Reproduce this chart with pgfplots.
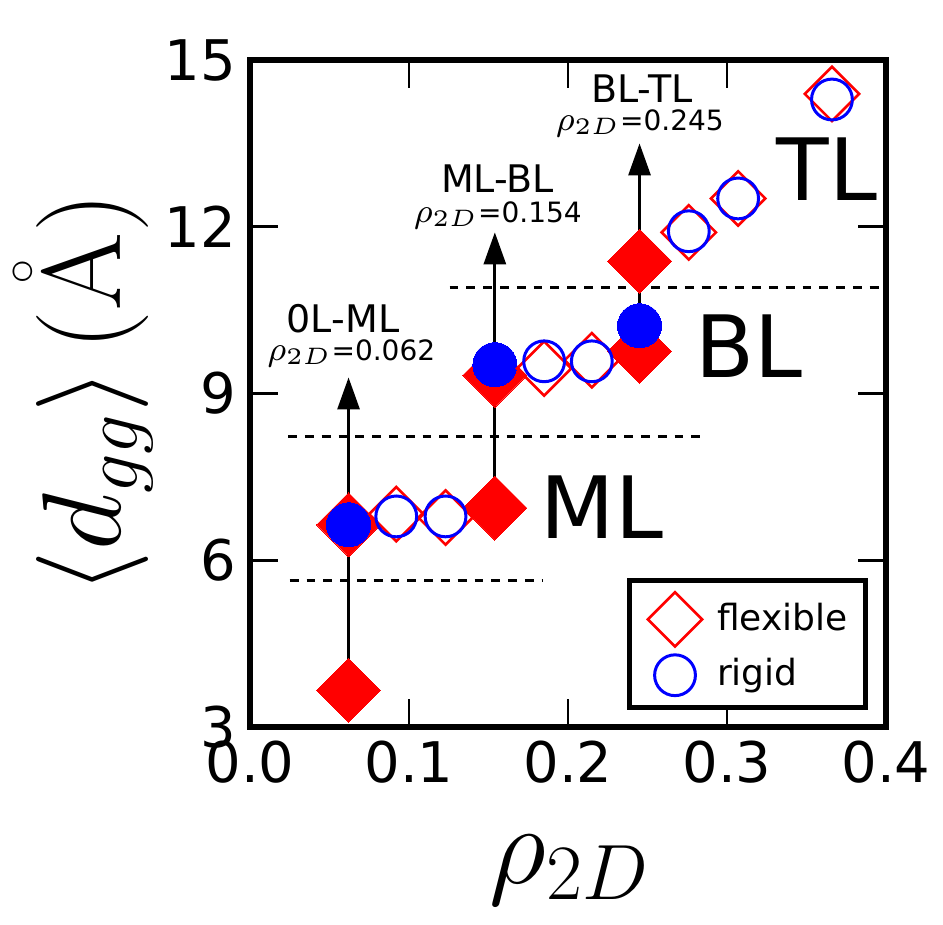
\RequirePackage{fix-cm}
\documentclass[border=0pt]{standalone}
\usepackage[no-math]{fontspec}
\setmainfont{DejaVu Sans}
\usepackage{pgfplots}
\pgfplotsset{compat=1.18}
\usetikzlibrary{arrows.meta}
\definecolor{mred}{RGB}{255,0,0}
\definecolor{mblue}{RGB}{0,0,255}
\newcommand{\tlfont}{\fontsize{14}{16}\selectfont}
\newcommand{\annfont}{\fontsize{9.5}{11}\selectfont}
\newcommand{\rhofont}{\fontsize{7}{8}\selectfont}
\newcommand{\rhomath}{{\fontsize{8.5}{9}\selectfont$\rho_{2D}$}}
\newcommand{\bigfont}{\fontsize{21.5}{24}\selectfont}
\begin{document}
\begin{tikzpicture}
\begin{axis}[
  scale only axis,
  width=159pt, height=166.75pt,
  xmin=0, xmax=0.4, ymin=3, ymax=15,
  xtick={0,0.1,0.2,0.3,0.4},
  ytick={3,6,9,12,15},
  tick align=inside,
  major tick length=7pt,
  every tick/.style={black, line width=0.7pt},
  axis line style={line width=1.4pt},
  /pgf/number format/assume math mode=true,
  xticklabel style={/pgf/number format/fixed, /pgf/number format/fixed zerofill, /pgf/number format/precision=1, font=\tlfont},
  yticklabel style={font=\tlfont},
  xlabel={$\rho_{2D}$},
  xlabel style={font=\fontsize{28}{32}\selectfont, at={(rel axis cs:0.503,-0.234)}, anchor=base},
  ylabel={$\bigl\langle d_{gg}\bigr\rangle\,(\mathring{\mathrm{A}})$},
  ylabel style={font=\fontsize{28}{32}\selectfont, at={(rel axis cs:-0.261,0.5)}, anchor=center},
  legend style={at={(rel axis cs:0.972,0.025)}, anchor=south east, draw=black, line width=1.25pt, font=\fontsize{9}{11}\selectfont, inner xsep=4.5pt, inner ysep=3pt, row sep=2pt, column sep=3.75pt, nodes={inner xsep=0pt, inner ysep=1pt}},
  legend cell align=left,
  legend image code/.code={\draw[mark repeat=2,mark phase=2,#1] plot coordinates {(0pt,0pt) (10.5pt,0pt) (21pt,0pt)};},
  clip=false,
]
% filled diamonds (flexible, transition points)
\addplot[only marks, forget plot, mark=square*, mark size=5.66pt, mark options={rotate=45, draw=mred, fill=mred, line width=0pt}] coordinates {
(0.062,3.66) (0.062,6.64) (0.154,6.94) (0.154,9.33) (0.245,9.76) (0.245,11.38)};
% filled circles (rigid, transition points)
\addplot[only marks, forget plot, mark=*, mark size=5.5pt, mark options={draw=mblue, fill=mblue, line width=0pt}] coordinates {
(0.062,6.64) (0.154,9.52) (0.245,10.22)};
% open diamonds
\addplot[only marks, mark=square, mark size=4.8pt, draw=mred, line width=0.65pt, mark options={rotate=45}] coordinates {
(0.092,6.83) (0.123,6.77) (0.185,9.45) (0.215,9.60) (0.276,11.90) (0.307,12.51) (0.366,14.39)};
\addlegendentry{flexible}
% open circles
\addplot[only marks, mark=o, mark size=5.1pt, draw=mblue, line width=0.75pt] coordinates {
(0.092,6.79) (0.123,6.79) (0.185,9.58) (0.215,9.58) (0.276,11.92) (0.307,12.51) (0.366,14.29)};
\addlegendentry{rigid}
% dashed separators
\addplot[forget plot, black, line width=0.8pt, dash pattern=on 2.2pt off 2pt] coordinates {(0.025,5.63) (0.184,5.63)};
\addplot[forget plot, black, line width=0.8pt, dash pattern=on 2.2pt off 2pt] coordinates {(0.024,8.23) (0.284,8.23)};
\addplot[forget plot, black, line width=0.8pt, dash pattern=on 2.2pt off 2pt] coordinates {(0.1256,10.91) (0.4,10.91)};
% arrows
\addplot[forget plot, black, line width=0.75pt, -{Triangle[length=8pt,width=5.5pt]}] coordinates {(0.062,3.63) (0.062,9.29)};
\addplot[forget plot, black, line width=0.75pt, -{Triangle[length=8pt,width=5.5pt]}] coordinates {(0.154,6.99) (0.154,11.90)};
\addplot[forget plot, black, line width=0.75pt, -{Triangle[length=8pt,width=5.5pt]}] coordinates {(0.245,9.65) (0.245,13.50)};
% annotations
\node[font=\annfont, anchor=base] at (axis cs:0.0585,10.09) {0L-ML};
\node[font=\rhofont, anchor=base] at (axis cs:0.0638,9.60) {\rhomath=0.062};
\node[font=\annfont, anchor=base] at (axis cs:0.1557,12.62) {ML-BL};
\node[font=\rhofont, anchor=base] at (axis cs:0.156,12.08) {\rhomath=0.154};
\node[font=\annfont, anchor=base] at (axis cs:0.2465,14.24) {BL-TL};
\node[font=\rhofont, anchor=base] at (axis cs:0.2453,13.74) {\rhomath=0.245};
\node[font=\bigfont, anchor=base] at (axis cs:0.3629,12.48) {TL};
\node[font=\bigfont, anchor=base] at (axis cs:0.314,9.28) {BL};
\node[font=\bigfont, anchor=base] at (axis cs:0.2214,6.40) {ML};
\coordinate (bbl) at (rel axis cs:-0.393,-0.2954);
\coordinate (btr) at (rel axis cs:1.0896,1.09);
\end{axis}
\pgfresetboundingbox
\path[use as bounding box] (bbl) rectangle (btr);
\end{tikzpicture}
\end{document}
